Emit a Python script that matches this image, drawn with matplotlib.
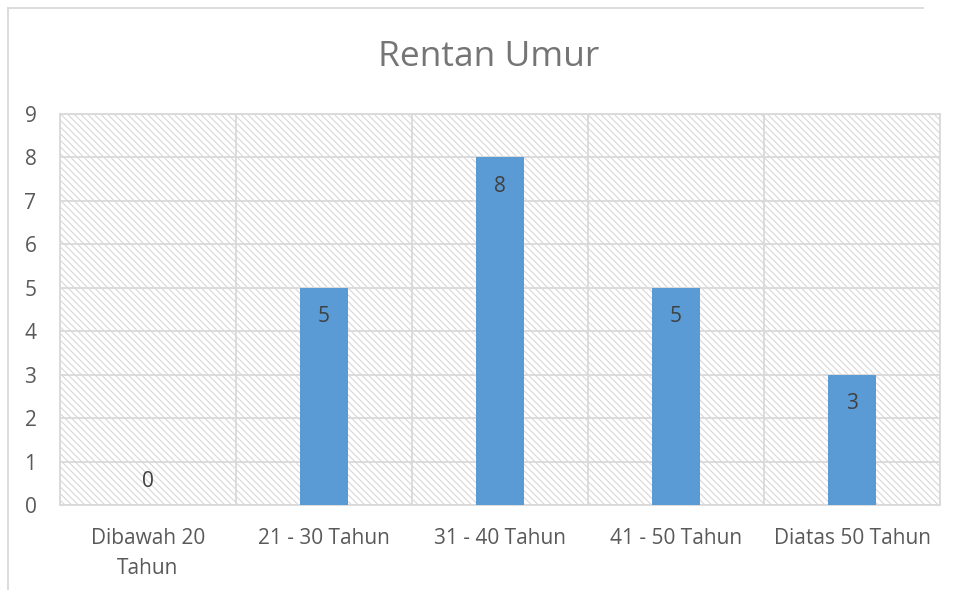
import matplotlib
matplotlib.use("Agg")
import matplotlib.pyplot as plt
from matplotlib.patches import Rectangle
from matplotlib.lines import Line2D

# data
categories = ["Dibawah 20\nTahun", "21 - 30 Tahun", "31 - 40 Tahun", "41 - 50 Tahun", "Diatas 50 Tahun"]
values = [0, 5, 8, 5, 3]
yticks = list(range(0, 10))

BAR = "#5b9bd5"
GRID = "#d9d9d9"
TXT = "#595959"

plt.rcParams["font.family"] = ["Open Sans", "DejaVu Sans"]
plt.rcParams["hatch.linewidth"] = 0.8

fig = plt.figure(figsize=(9.57, 5.90), dpi=100)
ax = fig.add_axes([60 / 957, 1 - 505 / 590, 880 / 957, 391 / 590])

# hatched plot area background
bg = Rectangle((0, 0), 1, 1, transform=ax.transAxes, facecolor="white",
               edgecolor="#d8d8d8", hatch="\\\\\\\\\\", lw=0, zorder=0)
ax.add_patch(bg)

x = list(range(len(categories)))
ax.bar(x, values, width=0.27, color=BAR, zorder=3)

ax.set_xlim(-0.5, len(categories) - 0.5)
ax.set_ylim(0, 9)
ax.set_yticks(yticks)
ax.set_xticks(x)
ax.set_xticklabels(categories, linespacing=1.55)

# gridlines
for y in yticks:
    ax.axhline(y, color=GRID, lw=1.3, zorder=1)
for b in range(len(categories) + 1):
    ax.axvline(b - 0.5, color=GRID, lw=1.3, zorder=1)

for s in ax.spines.values():
    s.set_color(GRID)
    s.set_linewidth(1.3)

ax.tick_params(axis="both", length=0, colors=TXT, labelsize=15)
ax.tick_params(axis="y", pad=17)
ax.tick_params(axis="x", pad=16.5)

# data labels, inside end
for xi, v in zip(x, values):
    if v == 0:
        ax.annotate(str(v), (xi, v), xytext=(0, 17), textcoords="offset points",
                    ha="center", va="center", fontsize=15, color="#404040", zorder=4)
    else:
        ax.annotate(str(v), (xi, v), xytext=(0, -21), textcoords="offset points",
                    ha="center", va="center", fontsize=15, color="#404040", zorder=4)

fig.text(489 / 957, 1 - 57 / 590, "Rentan Umur", ha="center", va="center",
         fontsize=25.5, color="#757575")

# chart border (top and left visible)
fig.add_artist(Line2D([8 / 957, 923 / 957], [1 - 8 / 590, 1 - 8 / 590],
                      transform=fig.transFigure, color=GRID, lw=1.3))
fig.add_artist(Line2D([8 / 957, 8 / 957], [1 - 8 / 590, 0],
                      transform=fig.transFigure, color=GRID, lw=1.3))

fig.savefig("out.png", dpi=100)
